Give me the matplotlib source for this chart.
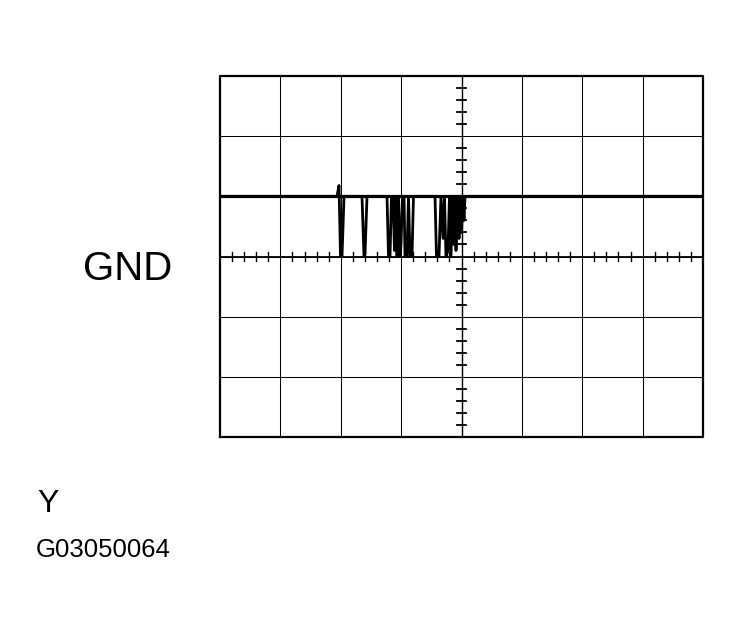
import numpy as np
import matplotlib.pyplot as plt

# trace, in scope divisions (8 across, 6 high, GND at 3)
t = [0.0, 1.938, 1.971, 1.996, 2.021, 2.054,
     2.352, 2.385, 2.402, 2.435,
     2.766, 2.791, 2.816, 2.840, 2.865, 2.890, 2.915, 2.932, 2.956, 2.981,
     2.998, 3.023, 3.048, 3.064, 3.097, 3.122, 3.147, 3.180, 3.205,
     3.561, 3.586, 3.627, 3.660, 3.694, 3.718, 3.743, 3.776, 3.801, 3.826,
     3.851, 3.876, 3.892, 3.909, 3.934, 3.959, 3.975, 4.000, 4.025, 4.041,
     4.058, 8.0]
v = [4.0, 4.0, 4.18, 3.0, 3.0, 4.0,
     4.0, 3.0, 3.05, 4.0,
     4.0, 3.0, 3.0, 4.0, 4.0, 3.1, 4.0, 3.0, 4.0, 3.0,
     3.2, 4.0, 4.0, 3.0, 3.0, 4.0, 3.0, 3.0, 4.0,
     4.0, 3.0, 3.0, 4.0, 3.3, 4.0, 3.0, 3.1, 4.0, 3.0,
     4.0, 3.2, 4.0, 3.1, 4.0, 3.3, 4.0, 3.4, 4.0, 3.6,
     4.0, 4.0]

gnd_label = "GND"
channel = "Y"
fig_id = "G03050064"

plt.rcParams['font.family'] = ['Liberation Sans', 'DejaVu Sans']

fig = plt.figure(figsize=(7.41, 6.34), dpi=100)
ax = fig.add_axes([220/741, 197/634, 483/741, 361/634])
ax.set_xlim(0, 8)
ax.set_ylim(0, 6)
ax.axis('off')

# grid
for i in range(1, 8):
    ax.axvline(i, color='black', lw=0.75)
for j in range(1, 6):
    ax.axhline(j, color='black', lw=0.75)
ax.plot([0, 8, 8, 0, 0], [0, 0, 6, 6, 0], color='black', lw=1.6, clip_on=False)

# center axes with minor ticks
ax.axvline(4, color='black', lw=1.0)
ax.axhline(3, color='black', lw=1.3)
for k in np.arange(0.2, 8, 0.2):
    if abs(k - round(k)) > 0.01:
        ax.plot([k, k], [3 - 0.07, 3 + 0.07], color='black', lw=1.0)
for k in np.arange(0.2, 6, 0.2):
    if abs(k - round(k)) > 0.01:
        ax.plot([4 - 0.075, 4 + 0.075], [k, k], color='black', lw=1.3)

ax.plot(t, v, color='black', lw=2.0)
ax.plot([0, 8], [4, 4], color='black', lw=2.3)

fig.text(172/741, 1 - 269/634, gnd_label, fontsize=29, ha='right', va='center')
fig.text(37/741, 1 - 504/634, channel, fontsize=23, ha='left', va='center')
fig.text(36/741, 1 - 550/634, fig_id, fontsize=18.5, ha='left', va='center')

fig.savefig("out.png", dpi=100)
